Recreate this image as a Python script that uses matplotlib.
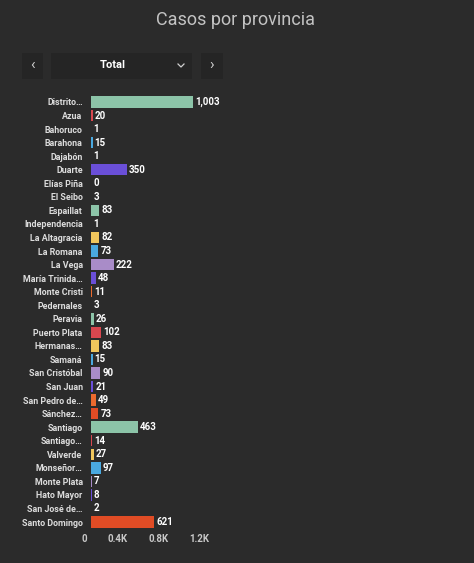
import matplotlib
matplotlib.use("Agg")
import matplotlib.pyplot as plt
from matplotlib.patches import Rectangle
from matplotlib.lines import Line2D

provincias = ["Distrito…", "Azua", "Bahoruco", "Barahona", "Dajabón", "Duarte",
              "Elías Piña", "El Seibo", "Espaillat", "Independencia", "La Altagracia",
              "La Romana", "La Vega", "María Trinida…", "Monte Cristi", "Pedernales",
              "Peravia", "Puerto Plata", "Hermanas…", "Samaná", "San Cristóbal",
              "San Juan", "San Pedro de…", "Sánchez…", "Santiago", "Santiago…",
              "Valverde", "Monseñor…", "Monte Plata", "Hato Mayor", "San José de…",
              "Santo Domingo"]
casos = [1003, 20, 1, 15, 1, 350, 0, 3, 83, 1, 82, 73, 222, 48, 11, 3, 26, 102,
         83, 15, 90, 21, 49, 73, 463, 14, 27, 97, 7, 8, 2, 621]
paleta = ["#8cc4a8", "#d9474f", "#f1c65c", "#4aa9e0", "#a98cc8", "#6a4fd8",
          "#ec6a2e", "#e04c25"]
xticks = [0, 400, 800, 1200]
xtick_labels = ["0", "0.4K", "0.8K", "1.2K"]

bg = "#2b2b2b"
W, H = 474, 563
fig = plt.figure(figsize=(W / 100, H / 100), dpi=100, facecolor=bg)
plt.rcParams["font.family"] = ["Roboto", "DejaVu Sans"]

fig.text(236 / W, 1 - 20 / H, "Casos por provincia", ha="center", va="center",
         color="#c3c3c3", fontsize=13)

# selector boxes
def px_rect(x0, y0, x1, y1):
    fig.add_artist(Rectangle((x0 / W, 1 - y1 / H), (x1 - x0) / W, (y1 - y0) / H,
                             transform=fig.transFigure, facecolor="#252525",
                             edgecolor="none"))

px_rect(22, 53, 43, 79)
px_rect(51, 53, 192, 79)
px_rect(201, 53, 223, 79)
fig.text(32.5 / W, 1 - 65 / H, "‹", ha="center", va="center", color="#d0d0d0", fontsize=11)
fig.text(212 / W, 1 - 65 / H, "›", ha="center", va="center", color="#d0d0d0", fontsize=11)
fig.text(113 / W, 1 - 65 / H, "Total", ha="center", va="center", color="white",
         fontsize=8, fontweight="bold")
fig.add_artist(Line2D([178 / W, 181 / W, 184 / W],
                      [1 - 64 / H, 1 - 67 / H, 1 - 64 / H],
                      transform=fig.transFigure, color="#d0d0d0", lw=0.9))

ax = fig.add_axes([91 / W, 1 - 528.8 / H, 122 / W, 433.6 / H])
ax.set_facecolor(bg)
colores = [paleta[i % len(paleta)] for i in range(len(casos))]
y = list(range(len(casos)))
ax.barh(y, casos, height=0.85, color=colores)
ax.set_xlim(0, 1200)
ax.set_ylim(len(casos) - 0.5, -0.5)

for yi, v in zip(y, casos):
    ax.annotate(f"{v:,}", (v, yi), xytext=(1.5, 0), textcoords="offset points",
                ha="left", va="center", color="white", fontsize=7, fontweight="bold",
                annotation_clip=False)

ax.set_yticks(y)
ax.set_yticklabels(provincias, color="#dcdcdc", fontsize=6.4, fontweight="bold")
ax.set_xticks([])
for xt, lab in zip(xticks, xtick_labels):
    ax.annotate(lab, (xt, 0), xycoords=("data", "axes fraction"),
                xytext=(-3, -7), textcoords="offset points", ha="right", va="center",
                color="#c8c8c8", fontsize=7, fontweight="bold", annotation_clip=False)
ax.tick_params(axis="both", length=0)
ax.tick_params(axis="y", pad=6)
for s in ax.spines.values():
    s.set_visible(False)

fig.savefig("out.png", dpi=100, facecolor=bg)
